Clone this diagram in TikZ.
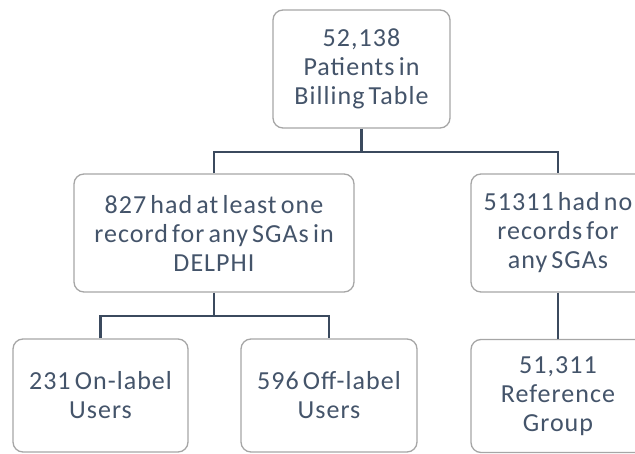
\documentclass[tikz,border=0pt]{standalone}
\usepackage{fontspec}
\setmainfont[LetterSpace=4,WordSpace=0.6]{Carlito}
\definecolor{txtc}{HTML}{44546A}
\definecolor{linec}{HTML}{3B4A5E}
\definecolor{boxc}{HTML}{A6A6A6}
\begin{document}
\begin{tikzpicture}[x=1pt,y=-1pt,
  box/.style={draw=boxc,line width=1.3pt,rounded corners=10pt,fill=white,
    text=txtc,align=center,inner sep=0pt,
    font=\fontsize{26}{29}\selectfont},
  conn/.style={draw=linec,line width=2.4pt}]
\useasboundingbox (0,0) rectangle (635,454);
\clip (0,0) rectangle (635,454);
\node[box,minimum width=177pt,minimum height=118pt] (top) at (361.5,69) {52,138\\Patients in\\Billing Table};
\node[box,minimum width=280pt,minimum height=118pt] (midL) at (214,233) {827 had at least one\\record for any SGAs in\\DELPHI};
\node[box,minimum width=174pt,minimum height=118pt] (midR) at (558,233) {51311 had no\\records for\\any SGAs};
\node[box,minimum width=175pt,minimum height=113pt] (botA) at (100.5,395.5) {231 On-label\\Users};
\node[box,minimum width=176pt,minimum height=113pt] (botB) at (329,395.5) {596 Off-label\\Users};
\node[box,minimum width=174pt,minimum height=113pt] (botR) at (558,396) {51,311\\Reference\\Group};
\coordinate (j1) at (361.5,152);
\coordinate (j2) at (214,316);
\draw[conn] (top.south) -- (j1);
\draw[conn] (midL.north) |- (j1) -| (midR.north);
\draw[conn] (midL.south) -- (j2);
\draw[conn] (botA.north) |- (j2) -| (botB.north);
\draw[conn] (midR.south) -- (botR.north);
\end{tikzpicture}
\end{document}
